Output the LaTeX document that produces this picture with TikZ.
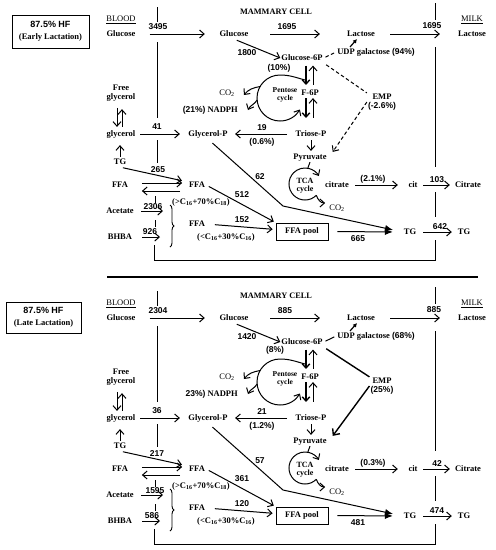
\documentclass[tikz,border=0pt]{standalone}
\usepackage{fontspec}
\setmainfont{Liberation Serif}
\setsansfont{Liberation Sans}
\usetikzlibrary{arrows.meta}
\usetikzlibrary{calc}
\usetikzlibrary{decorations.pathreplacing}
\tikzstyle{met}=[font=\fontsize{8.5}{9}\selectfont\bfseries,inner sep=1pt,text height=6pt,text depth=1.8pt]
\tikzstyle{met2}=[font=\fontsize{8.5}{8.5}\selectfont\bfseries,inner sep=1pt,align=center]
\tikzstyle{cyc}=[font=\fontsize{7.5}{7.5}\selectfont\bfseries,inner sep=0pt,align=center]
\tikzstyle{num}=[font=\fontsize{8.5}{9}\selectfont\sffamily\bfseries,inner sep=0.5pt]
\tikzstyle{txt}=[font=\fontsize{8.5}{9}\selectfont,inner sep=1pt]
\tikzstyle{ttl}=[draw,line width=0.9pt,align=center,font=\fontsize{8.5}{12}\selectfont\bfseries]
\tikzstyle{flow}=[draw,line width=1pt,-{Straight Barb[length=4.5pt,width=8pt]}]
\tikzstyle{downarr}=[draw,line width=1.4pt,-{Straight Barb[length=4pt,width=7.5pt]}]
\tikzstyle{fillflow}=[draw,line width=1pt,-{Latex[length=8pt,width=6.5pt]}]
\tikzstyle{smallarr}=[draw,line width=1.2pt,-{Latex[length=4pt,width=4.5pt]}]
\tikzstyle{dashedlink}=[draw,line width=1pt,dash pattern=on 3.5pt off 2.5pt]
\tikzstyle{emplink}=[draw,line width=1.4pt]
\tikzstyle{wall}=[draw,line width=1pt]
\tikzstyle{brc}=[draw,line width=0.9pt,decorate,decoration={brace,amplitude=4pt}]

\begin{document}
\begin{tikzpicture}[x=1pt,y=1pt]
	\useasboundingbox (0,0) rectangle (496,-550);

	% early lactation
	\node[ttl,minimum width=77pt,minimum height=33pt] (box) at (50.5,-31.5) {{\sffamily\fontsize{9}{12}\selectfont 87.5\% HF}\\(Early Lactation)};
	\node[txt] (blood) at (121,-19.5) {\underline{BLOOD}};
	\node[met,font=\fontsize{8.3}{9}\selectfont\bfseries] (cell) at (276,-12) {MAMMARY CELL};
	\node[txt] (milk) at (472,-20) {\underline{MILK}};

	\node[met] (glcb) at (121,-34) {Glucose};
	\node[met] (glcc) at (234,-34) {Glucose};
	\node[met] (lac) at (361,-34) {Lactose};
	\node[met] (lacm) at (472,-34) {Lactose};
	\node[met] (udp) at (376,-52) {UDP galactose \textsf{(94\%)}};
	\node[met] (g6p) at (302,-58) {Glucose-6P};
	\node[met] (f6p) at (310,-93) {F-6P};
	\node[met] (trp) at (311,-134) {Triose-P};
	\node[met2] (emp) at (382,-102) {EMP\\\textsf{(-2.6\%)}};
	\node[met2] (fgl) at (121,-93) {Free\\glycerol};
	\node[met] (gly) at (121,-134) {glycerol};
	\node[met] (glp) at (208,-134) {Glycerol-P};
	\node[met] (tgb) at (120,-162) {TG};
	\node[met] (ffb) at (120,-185) {FFA};
	\node[met] (ffc) at (197,-185) {FFA};
	\node[met] (ffd) at (197,-224) {FFA};
	\node[met] (ace) at (120,-211) {Acetate};
	\node[met] (bhb) at (120,-237) {BHBA};
	\node[met,draw,line width=0.9pt,minimum width=52pt,minimum height=17pt] (pool) at (302,-231.5) {FFA pool};
	\node[met] (tgc) at (410,-232) {TG};
	\node[met] (tgm) at (464,-232) {TG};
	\node[met] (pyr) at (310,-157) {Pyruvate};
	\node[met] (cit) at (337,-185) {citrate};
	\node[met] (cit2) at (413,-185) {cit};
	\node[met] (citm) at (468,-185) {Citrate};
	\node[txt] (co2a) at (227,-93) {CO\textsubscript{2}};
	\node[met,anchor=east] (nadph) at (239,-110) {\textsf{(21\%)} NADPH};
	\node[txt] (co2b) at (337,-208) {CO\textsubscript{2}};
	\node[cyc] (pct) at (285,-95) {Pentose\\cycle};
	\node[cyc,font=\fontsize{8}{8}\selectfont\bfseries] (tct) at (305,-186) {TCA\\cycle};
	\node[met] (ffctxt) at (201,-202) {(>C\textsubscript{16}+70\%C\textsubscript{18})};
	\node[met] (ffdtxt) at (226,-237) {(<C\textsubscript{16}+30\%C\textsubscript{16})};

	\node[num] (nglc) at (158,-27) {3495};
	\node[num] (nlac) at (287,-27) {1695};
	\node[num] (nlacm) at (432,-26) {1695};
	\node[num] (ng6p) at (247,-53) {1800};
	\node[num] (npc) at (279,-68) {(10\%)};
	\node[num] (ntrp) at (262,-128) {19};
	\node[num] (ntrpp) at (262,-142) {(0.6\%)};
	\node[num] (ngly) at (157,-127) {41};
	\node[num] (ntg) at (158,-170) {265};
	\node[num] (nace) at (153,-207) {2306};
	\node[num] (nbhb) at (150,-232) {926};
	\node[num] (nffc) at (242,-195) {512};
	\node[num] (nffd) at (242,-220) {152};
	\node[num] (nglp) at (260,-177) {62};
	\node[num] (npool) at (358,-239) {665};
	\node[num] (ncit) at (373,-179) {(2.1\%)};
	\node[num] (ncitm) at (437,-180) {103};
	\node[num] (ntgm) at (440,-227) {642};

	\coordinate (pc) at (280,-98);
	\coordinate (tc) at (305,-184);
	\coordinate (bend) at (283,-206);
	\coordinate (brt) at (170,-226);

	\path[flow,shorten <=13pt,shorten >=13.6pt] (glcb) -- (glcc);
	\path[flow,shorten <=20.6pt,shorten >=26pt] (glcc) -- (lac);
	\path[flow,shorten <=14pt,shorten >=17pt] (lac) -- (lacm);
	\path[flow,shorten <=3pt] (glcc.south) -- (g6p.west);
	\path[dashedlink,shorten <=2pt,shorten >=2pt] (g6p.east) -- (udp.west);
	\path[smallarr] ([xshift=14pt]udp.north west) -- ([xshift=-4pt]lac.south);
	\path[dashedlink,shorten <=3pt] (g6p.south east) -- (emp.north west);
	\path[dashedlink,-{Straight Barb[length=4.5pt,width=8pt]}] (emp.west) -- ([xshift=5pt]pyr.north east);
	\path[downarr,shorten <=2.5pt,shorten >=3pt] ([xshift=-4pt]f6p.north |- g6p.south) -- ([xshift=-4pt]f6p.north);
	\path[flow,shorten <=3pt,shorten >=2.5pt] ([xshift=3pt]f6p.north) -- ([xshift=3pt]f6p.north |- g6p.south);
	\path[downarr,shorten >=11pt] ([xshift=-4pt]f6p.south) -- ([xshift=-4pt]f6p.south |- trp.north);
	\path[flow,shorten <=11pt] ([xshift=3pt]f6p.south |- trp.north) -- ([xshift=3pt]f6p.south);
	\draw[flow] (305,-80) to[out=165,in=0] ($(pc)+(90:23)$) arc[start angle=90,end angle=330,radius=23];
	\draw[flow] ($(pc)+(150:23)$) to[out=190,in=50] ([shift={(8,-2)}]co2a.east);
	\draw[flow] ($(pc)+(185:23)$) to[out=240,in=65] ([xshift=9pt]nadph.east);
	\path[flow,shorten <=7.4pt,shorten >=6.4pt] (trp) -- (glp);
	\path[flow,shorten <=3.6pt,shorten >=7.4pt] (gly) -- (glp);
	\path[flow,shorten <=5.7pt,shorten >=2pt] ([xshift=-4pt]fgl.south) -- ([xshift=-4pt]fgl.south |- gly.north);
	\path[flow,shorten <=2pt,shorten >=7pt] ([xshift=1pt]fgl.south |- gly.north) -- ([xshift=1pt]fgl.south);
	\path[flow,shorten >=6pt] (tgb.north) -- (tgb.north |- gly.south);
	\path[flow,shorten <=3pt,shorten >=6pt] (tgb.south) -- ([yshift=3pt]ffc.west);
	\path[flow,shorten <=12.75pt,shorten >=5.75pt] ([yshift=2pt]ffb.east) -- ([yshift=2pt]ffc.west);
	\path[flow,shorten <=7.75pt,shorten >=12.75pt] ([yshift=-6pt]ffc.west) -- ([yshift=-6pt]ffb.east);
	\path[brc] (170,-205) -- (170,-247);
	\path[flow,shorten <=6.3pt,shorten >=7pt] (ace.east) -- (ace.east -| brt);
	\path[flow,shorten <=9pt,shorten >=10pt] (bhb.east) -- (bhb.east -| brt);
	\path[flow,shorten <=3pt,shorten >=2pt] (ffc.east) -- (pool.north west);
	\path[flow,shorten <=8.75pt,shorten >=3pt] (ffd.east) -- ([yshift=2pt]pool.west);
	\path[fillflow,shorten <=9pt,shorten >=9.85pt] (pool.east) -- (tgc.west);
	\path[fillflow,shorten <=6pt,shorten >=9.85pt] (glp.south) -- (bend) -- (tgc.west);
	\path[flow,shorten <=1pt,shorten >=1pt] (trp.south) -- (trp.south |- pyr.north);
	\path[wall] (pyr.south) -- ($(tc)+(80:16)$);
	\draw[flow] ($(tc)+(-45:16)$) arc[start angle=-45,end angle=-330,radius=16];
	\draw[flow] ($(tc)+(-45:16)$) to[out=-70,in=180] ([shift={(-3,5)}]co2b.west);
	\path[flow,shorten <=5.2pt,shorten >=9.5pt] (cit) -- (cit2);
	\path[flow,shorten <=4.5pt,shorten >=4pt] (cit2) -- (citm);
	\path[flow,shorten <=5.85pt,shorten >=4.85pt] (tgc) -- (tgm);

	\draw[wall] (157,-7) -- (157,-22);
	\draw[wall] (157,-42) -- (157,-118);
	\draw[wall] (157,-140) -- (157,-163);
	\draw[wall] (155,-196) -- (155,-203);
	\draw[wall] (155,-220) -- (155,-227);
	\draw[wall] (154,-245) -- (154,-260) -- (435,-260) -- (435,-240);
	\draw[wall] (435,-3) -- (435,-20);
	\draw[wall] (435,-47) -- (435,-167);
	\draw[wall] (435,-192) -- (435,-217);

	\draw[line width=1.2pt] (107,-277) -- (478,-277);

	% late lactation
	\node[ttl,minimum width=75pt,minimum height=31pt] (box2) at (43.5,-317.5) {{\sffamily\fontsize{9}{12}\selectfont 87.5\% HF}\\(Late Lactation)};
	\node[txt] (blood2) at (121,-303.5) {\underline{BLOOD}};
	\node[met,font=\fontsize{8.3}{9}\selectfont\bfseries] (cell2) at (276,-296) {MAMMARY CELL};
	\node[txt] (milk2) at (472,-304) {\underline{MILK}};

	\node[met] (glcb2) at (121,-318) {Glucose};
	\node[met] (glcc2) at (234,-318) {Glucose};
	\node[met] (lac2) at (361,-318) {Lactose};
	\node[met] (lacm2) at (472,-318) {Lactose};
	\node[met] (udp2) at (376,-336) {UDP galactose \textsf{(68\%)}};
	\node[met] (g6p2) at (302,-342) {Glucose-6P};
	\node[met] (f6p2) at (310,-377) {F-6P};
	\node[met] (trp2) at (311,-418) {Triose-P};
	\node[met2] (emp2) at (382,-386) {EMP\\\textsf{(25\%)}};
	\node[met2] (fgl2) at (121,-377) {Free\\glycerol};
	\node[met] (gly2) at (121,-418) {glycerol};
	\node[met] (glp2) at (208,-418) {Glycerol-P};
	\node[met] (tgb2) at (120,-446) {TG};
	\node[met] (ffb2) at (120,-469) {FFA};
	\node[met] (ffc2) at (197,-469) {FFA};
	\node[met] (ffd2) at (197,-508) {FFA};
	\node[met] (ace2) at (120,-495) {Acetate};
	\node[met] (bhb2) at (120,-521) {BHBA};
	\node[met,draw,line width=0.9pt,minimum width=52pt,minimum height=17pt] (pool2) at (302,-515.5) {FFA pool};
	\node[met] (tgc2) at (410,-516) {TG};
	\node[met] (tgm2) at (464,-516) {TG};
	\node[met] (pyr2) at (310,-441) {Pyruvate};
	\node[met] (cit3) at (337,-469) {citrate};
	\node[met] (cit4) at (413,-469) {cit};
	\node[met] (citm2) at (468,-469) {Citrate};
	\node[txt] (co2c) at (227,-377) {CO\textsubscript{2}};
	\node[met,anchor=east] (nadph2) at (239,-394) {\textsf{23\%)} NADPH};
	\node[txt] (co2d) at (337,-492) {CO\textsubscript{2}};
	\node[cyc] (pct2) at (285,-379) {Pentose\\cycle};
	\node[cyc,font=\fontsize{8}{8}\selectfont\bfseries] (tct2) at (305,-470) {TCA\\cycle};
	\node[met] (ffctxt2) at (201,-486) {(>C\textsubscript{16}+70\%C\textsubscript{18})};
	\node[met] (ffdtxt2) at (226,-521) {(<C\textsubscript{16}+30\%C\textsubscript{16})};

	\node[num] (nglc2) at (158,-311) {2304};
	\node[num] (nlac2) at (285,-311) {885};
	\node[num] (nlacm2) at (434,-310) {885};
	\node[num] (ng6p2) at (247,-337) {1420};
	\node[num] (npc2) at (275,-350) {(8\%)};
	\node[num] (ntrp2) at (262,-412) {21};
	\node[num] (ntrpp2) at (262,-426) {(1.2\%)};
	\node[num] (ngly2) at (157,-411) {36};
	\node[num] (ntg2) at (157,-454) {217};
	\node[num] (nace2) at (155,-491) {1595};
	\node[num] (nbhb2) at (152,-516) {586};
	\node[num] (nffc2) at (242,-479) {361};
	\node[num] (nffd2) at (242,-504) {120};
	\node[num] (nglp2) at (260,-461) {57};
	\node[num] (npool2) at (358,-523) {481};
	\node[num] (ncit2) at (373,-463) {(0.3\%)};
	\node[num] (ncitm2) at (437,-464) {42};
	\node[num] (ntgm2) at (437,-511) {474};

	\coordinate (pc2) at (280,-382);
	\coordinate (tc2) at (305,-468);
	\coordinate (bend2) at (283,-490);
	\coordinate (brt2) at (170,-510);

	\path[flow,shorten <=13pt,shorten >=13.6pt] (glcb2) -- (glcc2);
	\path[flow,shorten <=20.6pt,shorten >=26pt] (glcc2) -- (lac2);
	\path[flow,shorten <=14pt,shorten >=17pt] (lac2) -- (lacm2);
	\path[flow,shorten <=3pt] (glcc2.south) -- (g6p2.west);
	\path[wall,shorten <=2pt,shorten >=2pt] (g6p2.east) -- (udp2.west);
	\path[smallarr] ([xshift=14pt]udp2.north west) -- ([xshift=-4pt]lac2.south);
	\path[emplink,shorten <=3pt] (g6p2.south east) -- (emp2.north west);
	\path[emplink,-{Straight Barb[length=5pt,width=9pt]}] (emp2.west) -- ([xshift=5pt]pyr2.north east);
	\path[downarr,shorten <=2.5pt,shorten >=3pt] ([xshift=-4pt]f6p2.north |- g6p2.south) -- ([xshift=-4pt]f6p2.north);
	\path[flow,shorten <=3pt,shorten >=2.5pt] ([xshift=3pt]f6p2.north) -- ([xshift=3pt]f6p2.north |- g6p2.south);
	\path[downarr,shorten >=11pt] ([xshift=-4pt]f6p2.south) -- ([xshift=-4pt]f6p2.south |- trp2.north);
	\path[flow,shorten <=11pt] ([xshift=3pt]f6p2.south |- trp2.north) -- ([xshift=3pt]f6p2.south);
	\draw[flow] (305,-364) to[out=165,in=0] ($(pc2)+(90:23)$) arc[start angle=90,end angle=330,radius=23];
	\draw[flow] ($(pc2)+(150:23)$) to[out=190,in=50] ([shift={(8,-2)}]co2c.east);
	\draw[flow] ($(pc2)+(185:23)$) to[out=240,in=65] ([xshift=9pt]nadph2.east);
	\path[flow,shorten <=7.4pt,shorten >=6.4pt] (trp2) -- (glp2);
	\path[flow,shorten <=3.6pt,shorten >=7.4pt] (gly2) -- (glp2);
	\path[flow,shorten <=5.7pt,shorten >=2pt] ([xshift=-4pt]fgl2.south) -- ([xshift=-4pt]fgl2.south |- gly2.north);
	\path[flow,shorten <=2pt,shorten >=7pt] ([xshift=1pt]fgl2.south |- gly2.north) -- ([xshift=1pt]fgl2.south);
	\path[flow,shorten >=6pt] (tgb2.north) -- (tgb2.north |- gly2.south);
	\path[flow,shorten <=3pt,shorten >=6pt] (tgb2.south) -- ([yshift=3pt]ffc2.west);
	\path[flow,shorten <=12.75pt,shorten >=5.75pt] ([yshift=2pt]ffb2.east) -- ([yshift=2pt]ffc2.west);
	\path[flow,shorten <=7.75pt,shorten >=12.75pt] ([yshift=-6pt]ffc2.west) -- ([yshift=-6pt]ffb2.east);
	\path[brc] (170,-489) -- (170,-531);
	\path[flow,shorten <=6.3pt,shorten >=7pt] (ace2.east) -- (ace2.east -| brt2);
	\path[flow,shorten <=9pt,shorten >=10pt] (bhb2.east) -- (bhb2.east -| brt2);
	\path[flow,shorten <=3pt,shorten >=2pt] (ffc2.east) -- (pool2.north west);
	\path[flow,shorten <=8.75pt,shorten >=3pt] (ffd2.east) -- ([yshift=2pt]pool2.west);
	\path[fillflow,shorten <=9pt,shorten >=9.85pt] (pool2.east) -- (tgc2.west);
	\path[fillflow,shorten <=6pt,shorten >=9.85pt] (glp2.south) -- (bend2) -- (tgc2.west);
	\path[flow,shorten <=1pt,shorten >=1pt] (trp2.south) -- (trp2.south |- pyr2.north);
	\path[wall] (pyr2.south) -- ($(tc2)+(80:16)$);
	\draw[flow] ($(tc2)+(-45:16)$) arc[start angle=-45,end angle=-330,radius=16];
	\draw[flow] ($(tc2)+(-45:16)$) to[out=-70,in=180] ([shift={(-3,5)}]co2d.west);
	\path[flow,shorten <=5.2pt,shorten >=9.5pt] (cit3) -- (cit4);
	\path[flow,shorten <=4.5pt,shorten >=4pt] (cit4) -- (citm2);
	\path[flow,shorten <=5.85pt,shorten >=4.85pt] (tgc2) -- (tgm2);

	\draw[wall] (157,-291) -- (157,-306);
	\draw[wall] (157,-326) -- (157,-402);
	\draw[wall] (157,-424) -- (157,-447);
	\draw[wall] (155,-480) -- (155,-487);
	\draw[wall] (155,-504) -- (155,-511);
	\draw[wall] (154,-529) -- (154,-544) -- (435,-544) -- (435,-524);
	\draw[wall] (435,-287) -- (435,-304);
	\draw[wall] (435,-331) -- (435,-451);
	\draw[wall] (435,-476) -- (435,-501);
\end{tikzpicture}
\end{document}
